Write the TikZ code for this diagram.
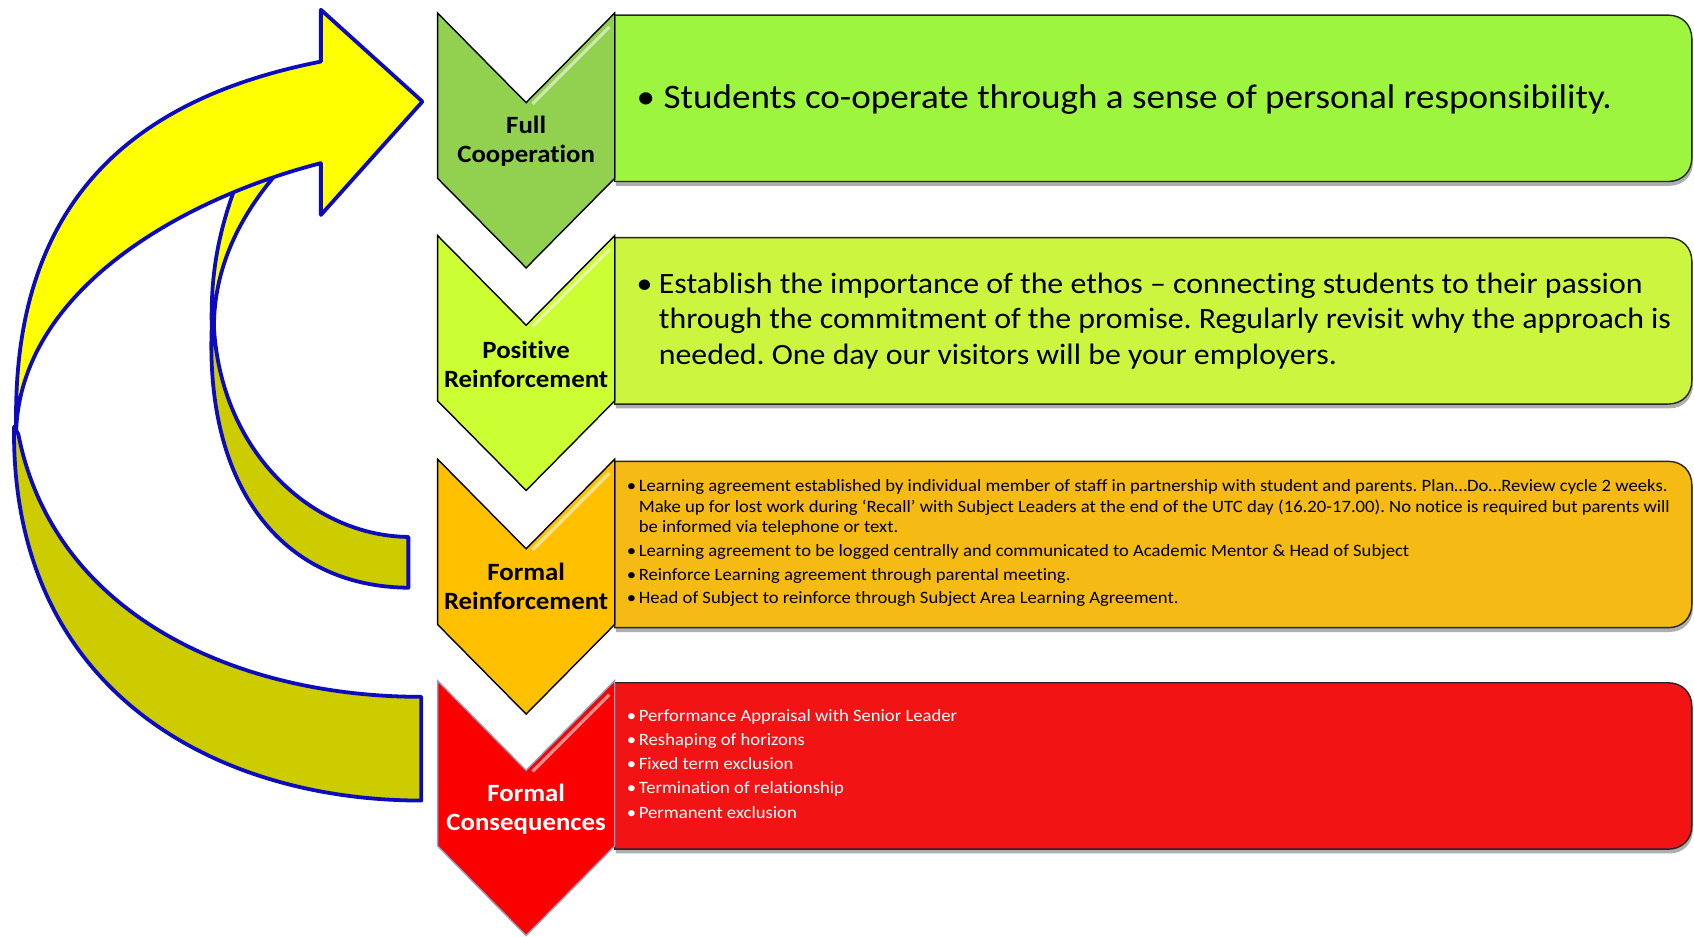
\documentclass[tikz,border=0pt]{standalone}
\usepackage{fontspec}
\setmainfont{Carlito}[FakeStretch=1.08, Ligatures=NoCommon]
\usetikzlibrary{shadows}
\frenchspacing

\definecolor{bandblue}{RGB}{12,12,190}
\definecolor{frontyellow}{RGB}{255,255,0}
\definecolor{backolive}{RGB}{204,204,0}
\definecolor{chevA}{RGB}{146,208,80}
\definecolor{chevB}{RGB}{204,255,51}
\definecolor{chevC}{RGB}{255,192,0}
\definecolor{chevD}{RGB}{250,0,0}
\definecolor{chevDline}{RGB}{150,160,190}
\definecolor{panelA}{RGB}{158,245,64}
\definecolor{panelB}{RGB}{204,245,64}
\definecolor{panelC}{RGB}{245,186,20}
\definecolor{panelD}{RGB}{242,20,20}

\begin{document}
\begin{tikzpicture}[x=1pt, y=-1pt,
    band/.style={draw=bandblue, line width=3.5pt, line join=round},
    panel/.style={draw=black!85, line width=1.3pt,
        drop shadow={shadow xshift=1pt, shadow yshift=-4pt, opacity=.45, fill=black!70}},
    chevron/.style={line width=1.3pt, line join=miter},
    stage/.style={font=\fontsize{23}{27}\selectfont\bfseries, align=center, inner sep=0pt},
    bigtext/.style={font=\fontsize{31.8}{36}\selectfont, anchor=base west, inner sep=0pt},
    midtext/.style={font=\fontsize{27.3}{32.5}\selectfont, anchor=base west, inner sep=0pt},
    smalltext/.style={font=\fontsize{16}{19}\selectfont, anchor=base west, inner sep=0pt}
]
    \path[use as bounding box, fill=white] (0,0) rectangle (1568,867);

    % curved return arrow
    \draw[band, fill=backolive] (13,395) .. controls (10,640) and (200,741) .. (390,741)
        -- (390,645) .. controls (220,645) and (50,570) .. (17,402) -- cycle;
    \draw[band, fill=backolive] (196,303) .. controls (190,450) and (260,543) .. (378,544)
        -- (378,497) .. controls (290,496) and (205,420) .. (198,303) -- cycle;
    \draw[band, fill=frontyellow] (219,170) .. controls (200,220) and (195,260) .. (196,303)
        -- (198,303) .. controls (198,250) and (220,200) .. (262,154) -- cycle;
    \draw[band, fill=frontyellow] (15,398) .. controls (10,180) and (130,90) .. (297,57)
        -- (297,9) -- (391,94) -- (297,199) -- (297,151)
        .. controls (165,185) and (20,270) .. (15,398) -- cycle;

    % stages
    \foreach \t/\pc/\cc/\oc in {12/panelA/chevA/black, 218/panelB/chevB/black,
                                425/panelC/chevC/black, 630/panelD/chevD/chevDline} {
        \path[panel, fill=\pc] (569,\t+2) -- (1544,\t+2) .. controls (1557,\t+2) and (1566,\t+11) .. (1566,\t+24)
            -- (1566,\t+134) .. controls (1566,\t+147) and (1557,\t+156) .. (1544,\t+156) -- (569,\t+156) -- cycle;
        \draw[chevron, draw=\oc, fill=\cc] (405,\t) -- (487,\t+83) -- (569,\t) -- (569,\t+153)
            -- (487,\t+236) -- (405,\t+153) -- cycle;
        \draw[white, opacity=.55, line width=3pt] (493,\t+84) -- (564,\t+13);
    }

    \node[stage] (lblFull) at (487,131) {Full\\Cooperation};
    \node[stage] (lblPos) at (487,337) {Positive\\Reinforcement};
    \node[stage] (lblFormal) at (487,543) {Formal\\Reinforcement};
    \node[stage, white] (lblCons) at (487,749) {Formal\\Consequences};

    \node[bigtext] (txtFull) at (589,100) {•\hspace{8pt}Students co-operate through a sense of personal responsibility.};
    \node[midtext] (txtPos) at (589,272) {\begin{tabular}[t]{@{}l@{\hspace{6pt}}l@{}}
        • & Establish the importance of the ethos – connecting students to their passion\\
          & through the commitment of the promise. Regularly revisit why the approach is\\
          & needed. One day our visitors will be your employers.
        \end{tabular}};
    \node[smalltext] (txtFormal) at (580,455) {\begin{tabular}[t]{@{}l@{\hspace{2.5pt}}l@{}}
        • & Learning agreement established by individual member of staff in partnership with student and parents. Plan…Do…Review cycle 2 weeks.\\
          & Make up for lost work during ‘Recall’ with Subject Leaders at the end of the UTC day (16.20-17.00). No notice is required but parents will\\
          & be informed via telephone or text.\\[3pt]
        • & Learning agreement to be logged centrally and communicated to Academic Mentor \& Head of Subject\\[3pt]
        • & Reinforce Learning agreement through parental meeting.\\[3pt]
        • & Head of Subject to reinforce through Subject Area Learning Agreement.
        \end{tabular}};
    \node[smalltext, white] (txtCons) at (580,668) {\begin{tabular}[t]{@{}l@{\hspace{2.5pt}}l@{}}
        • & Performance Appraisal with Senior Leader\\[3.3pt]
        • & Reshaping of horizons\\[3.3pt]
        • & Fixed term exclusion\\[3.3pt]
        • & Termination of relationship\\[3.3pt]
        • & Permanent exclusion
        \end{tabular}};
\end{tikzpicture}
\end{document}
